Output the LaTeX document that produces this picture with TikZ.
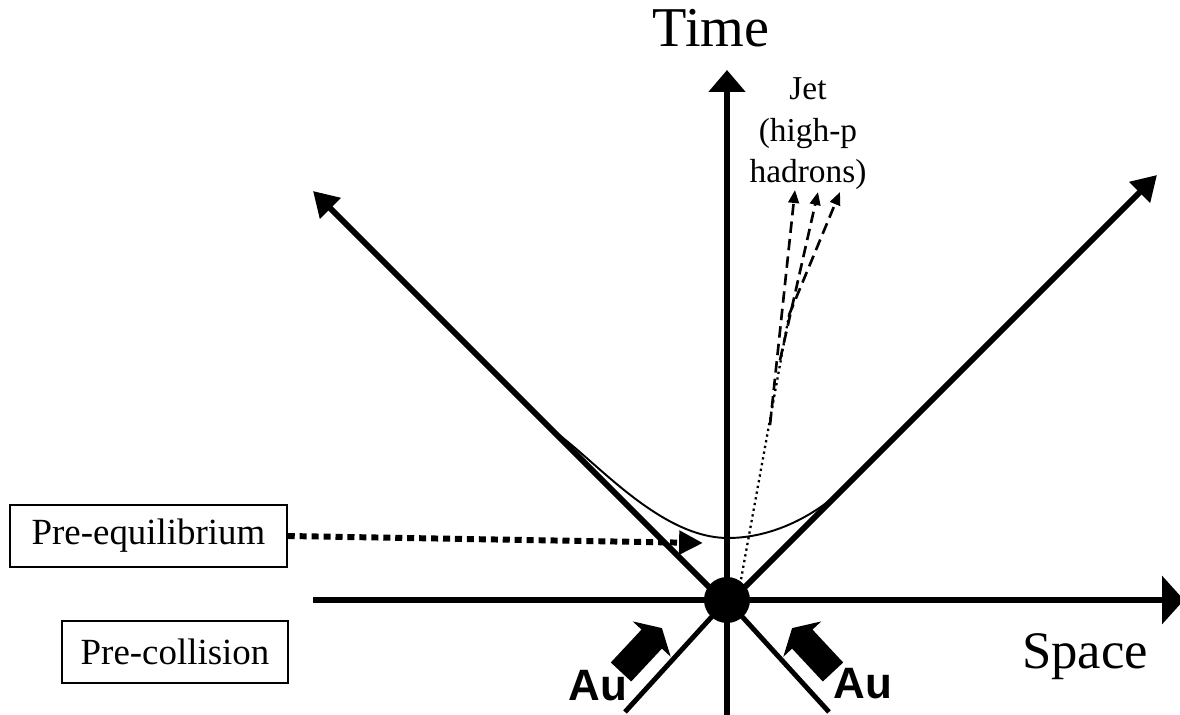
\documentclass[tikz,border=0pt]{standalone}
\usepackage{fontspec}
\setmainfont{Liberation Serif}
\setsansfont{Liberation Sans}
\usetikzlibrary{arrows.meta}

\begin{document}
\begin{tikzpicture}[x=0.02cm,y=-0.02cm,
  axis/.style={line width=3.4pt},
  conelow/.style={line width=2.8pt},
  jetline/.style={line width=1.5pt,dash pattern=on 6.5pt off 3.5pt,-{Triangle[length=7.4pt,width=6pt]}},
  stagebox/.style={draw,line width=0.85pt,inner sep=0pt,font=\fontsize{21}{25}\selectfont},
  au/.style={font=\sffamily\bfseries\fontsize{25}{30}\selectfont,inner sep=0pt}]
  \useasboundingbox (0,0) rectangle (1180,715);
  % light cone and axes
  \coordinate (O) at (727,600);
  \coordinate (X) at (727,605);
  \coordinate (tTop) at (727,70);
  \coordinate (tBot) at (727,718);
  \coordinate (sLeft) at (313,600);
  \coordinate (sRight) at (1184,600);
  \coordinate (cUL) at (313,191);
  \coordinate (cUR) at (1157,175);
  \coordinate (cLL) at (625,712);
  \coordinate (cLR) at (829,712);
  \draw[line width=1.1pt] (555,432) .. controls (595,460) and (660,538) .. (728,538)
    .. controls (770,538) and (812,518) .. (843,489);
  \draw[axis,-{Triangle[length=12.5pt,width=20.4pt]}] (tBot) -- (tTop);
  \draw[axis,-{Triangle[length=12.5pt,width=27pt]}] (sLeft) -- (sRight);
  \draw[axis,-{Triangle[length=14pt,width=16pt]}] (X) -- (cUL);
  \draw[axis,-{Triangle[length=14pt,width=16pt]}] (X) -- (cUR);
  \draw[conelow] (O) -- (cLL);
  \draw[conelow] (O) -- (cLR);
  \fill (O) circle (23);
  % jet
  \coordinate (jetA) at (740,585);
  \coordinate (jetB) at (789,315);
  \draw[line width=1.3pt,dotted] (jetA) -- (jetB);
  \coordinate (jet1) at (795,190);
  \coordinate (jet2) at (818,192);
  \coordinate (jet3) at (840,192);
  \draw[jetline] (770,425) -- (jet1);
  \draw[jetline] (780,360) -- (jet2);
  \draw[jetline] (jetB) -- (jet3);
  \node[inner sep=0pt,anchor=north,align=center,font=\fontsize{19}{23.8}\selectfont] (jet) at (808,77) {Jet\\(high-p\\hadrons)};
  % labels
  \node[anchor=base,font=\fontsize{32}{38}\selectfont] (time) at (711,47) {Time};
  \node[anchor=base,font=\fontsize{30}{36}\selectfont] (space) at (1085,669) {Space};
  \node[stagebox,minimum width=5.54cm,minimum height=1.24cm] (preq) at (148.5,536) {Pre-equilibrium};
  \node[stagebox,minimum width=4.52cm,minimum height=1.24cm] (precol) at (175,652) {Pre-collision};
  \coordinate (eqTip) at (703,543);
  \draw[line width=3.4pt,dash pattern=on 4pt off 2.8pt,-{Triangle[length=13.6pt,width=13pt]}] (preq.east) -- (eqTip);
  % gold nuclei
  \foreach \s in {1,-1}{
    \fill[shift={(727,0)},xscale=\s] (-95.8,681.5) -- (-116.2,662.5) -- (-85.5,629.6) -- (-94.3,621.4)
      -- (-65.1,628.1) -- (-56.3,656.8) -- (-65.1,648.6) -- cycle;}
  \node[au] (auL) at (598,686) {Au};
  \node[au] (auR) at (863,684) {Au};
\end{tikzpicture}
\end{document}
